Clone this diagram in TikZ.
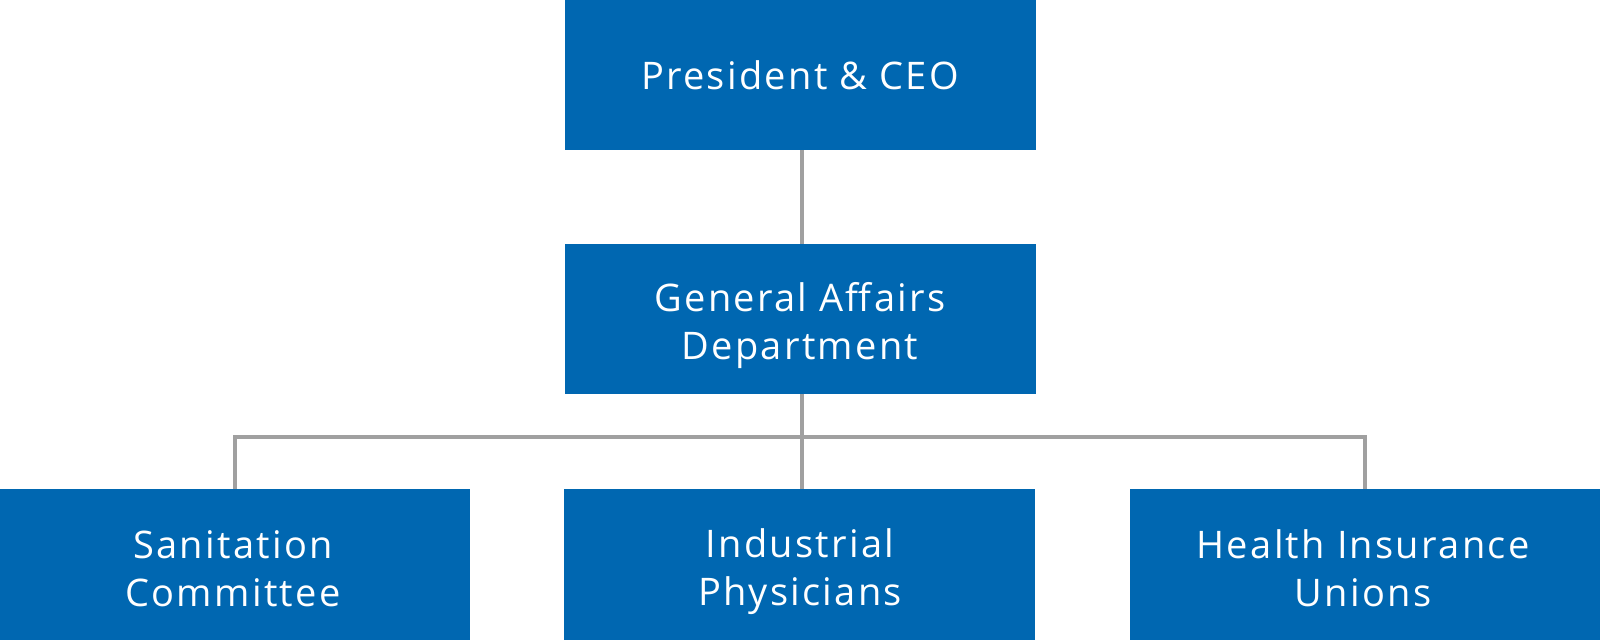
\documentclass[tikz,border=0pt]{standalone}
\usepackage{fontspec}
\setmainfont[LetterSpace=6]{Open Sans}
\definecolor{boxblue}{HTML}{0067B1}
\definecolor{linegray}{HTML}{A0A0A0}
\begin{document}
\begin{tikzpicture}[x=1pt,y=-1pt,
  orgbox/.style={fill=boxblue, draw=none, minimum width=471pt, minimum height=150pt, inner sep=0pt},
  orgtext/.style={text=white, align=center, inner sep=0pt, font=\fontsize{38}{48}\selectfont},
  conn/.style={draw=linegray, line width=3.5pt}]
\useasboundingbox (0,0) rectangle (1600,640);
\node[orgbox, orgtext] (ceo) at (800,75) {President \& CEO};
\node[orgbox] (ga) at (800,319) {};
\node[orgbox, minimum width=470pt, minimum height=151pt, anchor=north west] (san) at (0,489) {};
\node[orgbox, minimum height=151pt, anchor=north west] (ind) at (564,489) {};
\node[orgbox, minimum width=470pt, minimum height=151pt, anchor=north west] (hea) at (1130,489) {};
\node[orgtext] (gat) at (800,326) {General Affairs\\Department};
\node[orgtext] (sant) at (233,569) {Sanitation\\Committee};
\node[orgtext] (indt) at (800,572) {Industrial\\Physicians};
\node[orgtext] (heat) at (1363,568) {Health Insurance\\Unions};
\coordinate (bus) at (802,437);
\draw[conn] (ceo.south -| bus) -- (ga.north -| bus);
\draw[conn] (ga.south -| bus) -- (ind.north -| bus);
\draw[conn] (san.north -| 235,0) |- (bus) -| (hea.north -| 1365,0);
\end{tikzpicture}
\end{document}
